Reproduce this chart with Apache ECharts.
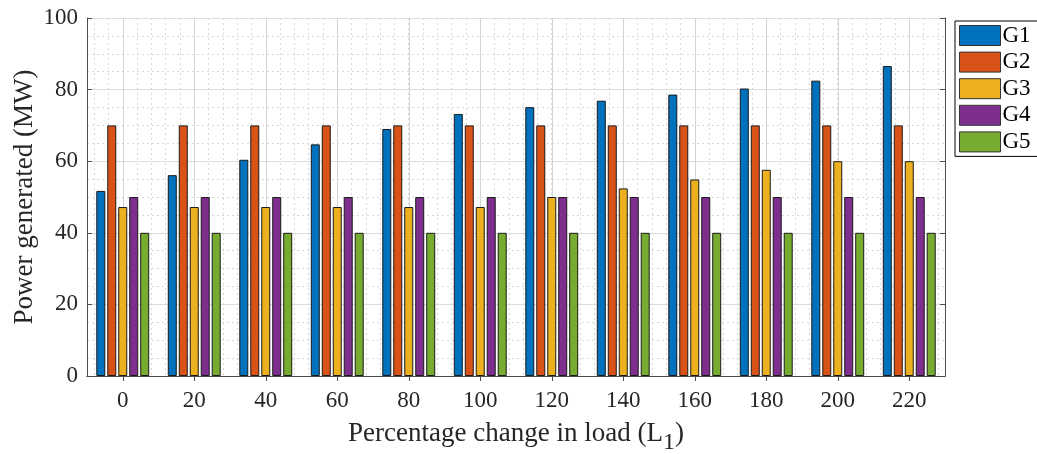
<!DOCTYPE html>
<html>
<head>
<meta charset="utf-8">
<script src="https://cdn.jsdelivr.net/npm/echarts@6/dist/echarts.min.js"></script>
<style>
html,body{margin:0;padding:0;background:#fff;}
#chart{width:1037px;height:454px;}
</style>
</head>
<body>
<div id="chart"></div>
<script>
const categories = ['0','20','40','60','80','100','120','140','160','180','200','220'];
const seriesNames = ['G1','G2','G3','G4','G5'];
const G1 = [51.7, 56.1, 60.4, 64.7, 69.0, 73.2, 75.1, 76.9, 78.6, 80.3, 82.5, 86.6];
const G2 = [70, 70, 70, 70, 70, 70, 70, 70, 70, 70, 70, 70];
const G3 = [47.2, 47.2, 47.2, 47.2, 47.2, 47.2, 50, 52.4, 54.9, 57.6, 60, 60];
const G4 = [50, 50, 50, 50, 50, 50, 50, 50, 50, 50, 50, 50];
const G5 = [40, 40, 40, 40, 40, 40, 40, 40, 40, 40, 40, 40];
const yTicks = [0, 20, 40, 60, 80, 100];
const colors = ['#0072BD', '#D95319', '#EDB120', '#7E2F8E', '#77AC30'];

const values = [G1, G2, G3, G4, G5];
const font = 'Liberation Serif';
const axisColor = '#4d4d4d';

// helper scaffolds for grid lines (not data)
const minorCats = Array.from({length: categories.length * 10}, () => '');
const majorCats = Array.from({length: categories.length * 2}, () => '');

const chart = echarts.init(document.getElementById('chart'));
chart.setOption({
  animation: false,
  backgroundColor: '#fff',
  grid: {left: 87, right: 92, top: 18, bottom: 78, containLabel: false, outerBoundsMode: 'none'},
  legend: {
    data: seriesNames,
    orient: 'vertical',
    left: 955, top: 21,
    itemWidth: 41, itemHeight: 20, itemGap: 3.6,
    padding: [3, 7, 3, 4],
    borderColor: '#000', borderWidth: 1,
    textStyle: {fontFamily: font, fontSize: 23, color: '#000', padding: [0, 0, 0, -3]},
    itemStyle: {borderColor: '#333', borderWidth: 1},
    icon: 'rect'
  },
  xAxis: [
    {
      type: 'category', data: categories, position: 'bottom',
      axisLine: {show: true, lineStyle: {color: axisColor, width: 1}},
      axisTick: {show: true, inside: true, alignWithLabel: true, length: 5, lineStyle: {color: axisColor}},
      axisLabel: {fontFamily: font, fontSize: 23, color: '#262626', margin: 13},
      splitLine: {show: false},
      name: 'Percentage change in load (L{s|1})',
      nameLocation: 'middle', nameGap: 37,
      nameTextStyle: {fontFamily: font, fontSize: 27, color: '#262626',
        rich: {s: {fontFamily: font, fontSize: 24, color: '#262626', padding: [18, 0, 0, 0]}}}
    },
    {
      type: 'category', data: categories, position: 'top',
      axisLine: {show: true, lineStyle: {color: axisColor, width: 1}},
      axisTick: {show: true, inside: true, alignWithLabel: true, length: 5, lineStyle: {color: axisColor}},
      axisLabel: {show: false}, splitLine: {show: false}
    },
    {
      type: 'category', data: minorCats, position: 'bottom', z: 0,
      axisLine: {show: false}, axisTick: {show: false}, axisLabel: {show: false},
      splitLine: {show: true, interval: (i) => i % 2 === 1,
        lineStyle: {color: '#d9d9d9', type: [2, 3], width: 1}}
    },
    {
      type: 'category', data: majorCats, position: 'bottom', z: 0,
      axisLine: {show: false}, axisTick: {show: false}, axisLabel: {show: false},
      splitLine: {show: true, interval: (i) => i % 2 === 1,
        lineStyle: {color: '#d4d4d4', width: 1}}
    }
  ],
  yAxis: [
    {
      type: 'value', min: 0, max: 100, interval: 20, position: 'left',
      axisLine: {show: true, lineStyle: {color: axisColor, width: 1}},
      axisTick: {show: true, inside: true, length: 5, lineStyle: {color: axisColor}},
      axisLabel: {fontFamily: font, fontSize: 23, color: '#262626', margin: 9,
        formatter: (v) => yTicks.includes(v) ? String(v) : ''},
      splitLine: {show: true, lineStyle: {color: '#dcdcdc', width: 1}},
      minorTick: {show: false, splitNumber: 4},
      minorSplitLine: {show: true, lineStyle: {color: '#d9d9d9', type: [2, 3], width: 1}},
      name: 'Power generated (MW)', nameLocation: 'middle', nameGap: 49, nameMoveOverlap: false,
      nameTextStyle: {fontFamily: font, fontSize: 27, color: '#262626'}
    },
    {
      type: 'value', min: 0, max: 100, interval: 20, position: 'right',
      axisLine: {show: true, lineStyle: {color: axisColor, width: 1}},
      axisTick: {show: true, inside: true, length: 5, lineStyle: {color: axisColor}},
      axisLabel: {show: false}, splitLine: {show: false}
    }
  ],
  series: seriesNames.map((n, k) => ({
    name: n, type: 'bar', xAxisIndex: 0, yAxisIndex: 0,
    data: values[k],
    barWidth: 9, barGap: '22%',
    itemStyle: {color: colors[k], borderColor: '#1a1a1a', borderWidth: 1},
    z: 3
  }))
});
</script>
</body>
</html>
